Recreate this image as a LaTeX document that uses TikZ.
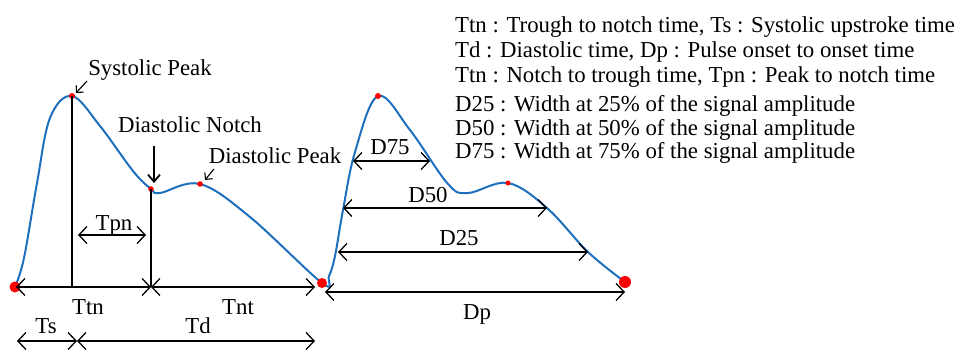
\documentclass[tikz,border=0pt]{standalone}
\usepackage{fontspec}
\setmainfont{Liberation Serif}
\usetikzlibrary{arrows.meta}
\definecolor{wave}{RGB}{30,112,190}
\begin{document}
\begin{tikzpicture}[x=1pt,y=-1pt,
  lbl/.style={font=\fontsize{22.8}{25}\selectfont, inner sep=0pt, anchor=base},
  leg/.style={font=\fontsize{22.8}{25}\selectfont, inner sep=0pt, anchor=base west},
  dim/.style={line width=1.3pt, {Straight Barb[length=8pt,width=17pt]}-{Straight Barb[length=8pt,width=17pt]}},
  pointer/.style={line width=1.1pt, -{Straight Barb[length=5pt,width=10pt]}},
  vline/.style={line width=1.2pt},
  wavec/.style={wave, line width=2pt},
  dot/.style={fill=red}]
\useasboundingbox (0,0) rectangle (965,350);

% waveform
\draw[wavec] plot[smooth, tension=0.6] coordinates {
 (15,287) (24,258) (37,183) (50,118) (72,96)
 (100,126) (133,171) (151,189) (160,193) (200,184)
 (250,217) (322,283)
 (329,276) (335,256) (343,210) (355,152) (378,96)
 (410,130) (448,184) (468,193) (508,183)
 (547,208) (588,252) (625,282)};

% key points
\coordinate (t1) at (15,287);
\coordinate (sp) at (72,96);
\coordinate (dn) at (151,189);
\coordinate (dpk) at (200,184);
\coordinate (t2) at (322,283);
\coordinate (sp2) at (378,96);
\coordinate (dpk2) at (508,183);
\coordinate (t3) at (625,282);

\fill[dot] (t1) circle (5.5pt);
\fill[dot] (sp) circle (3pt);
\fill[dot] (dn) circle (2.8pt);
\fill[dot] (dpk) circle (2.8pt);
\fill[dot] (t2) circle (5pt);
\fill[dot] (sp2) circle (3pt);
\fill[dot] (dpk2) circle (2.5pt);
\fill[dot] (t3) circle (6pt);

% base coordinates
\coordinate (b0) at (16,287);
\coordinate (b1) at (72,287);
\coordinate (b2) at (151,287);
\coordinate (b3) at (315,287);
\coordinate (c0) at (17,341);
\coordinate (c1) at (77,341);
\coordinate (c2) at (315,341);
\coordinate (p0) at (78,235);
\coordinate (p1) at (146,235);

\draw[vline] (sp) -- (b1);
\draw[vline] (dn) -- (b2);

\draw[dim] (b0) -- (b2);
\draw[dim] (b2) -- (b3);
\draw[dim] (c0) -- (c1);
\draw[dim] (c1) -- (c2);
\draw[dim] (p0) -- (p1);

\node[lbl] (ttn) at (88,314) {Ttn};
\node[lbl] (tnt) at (238,314) {Tnt};
\node[lbl] (ts) at (46,333) {Ts};
\node[lbl] (td) at (198,333) {Td};
\node[lbl] (tpn) at (114,230) {Tpn};

% second pulse dims
\coordinate (d75a) at (353,161);
\coordinate (d75b) at (430,161);
\coordinate (d50a) at (343,208);
\coordinate (d50b) at (547,208);
\coordinate (d25a) at (338,252);
\coordinate (d25b) at (588,252);
\coordinate (dpa) at (325,292);
\coordinate (dpb) at (625,292);
\draw[dim] (d75a) -- (d75b);
\draw[dim] (d50a) -- (d50b);
\draw[dim] (d25a) -- (d25b);
\draw[dim] (dpa) -- (dpb);
\node[lbl] (l75) at (390,154) {D75};
\node[lbl] (l50) at (428,202) {D50};
\node[lbl] (l25) at (459,245) {D25};
\node[lbl] (ldp) at (477,319) {Dp};

% annotations
\node[lbl] (spl) at (150,76) {Systolic Peak};
\node[lbl] (dnl) at (190,132) {Diastolic Notch};
\node[lbl] (dpl) at (275,163) {Diastolic Peak};
\coordinate (spa) at (87,81);
\coordinate (spb) at (76,93);
\draw[pointer] (spa) -- (spb);
\coordinate (dna) at (154,146);
\coordinate (dnb) at (154,183);
\draw[line width=1.8pt, -{Straight Barb[length=7pt,width=12pt]}] (dna) -- (dnb);
\coordinate (dpa1) at (214,169);
\coordinate (dpb1) at (205,180);
\draw[pointer] (dpa1) -- (dpb1);

% legend
\node[leg] (g1) at (455,33) {Ttn : Trough to notch time, Ts : Systolic upstroke time};
\node[leg] (g2) at (455,58) {Td : Diastolic time, Dp : Pulse onset to onset time};
\node[leg] (g3) at (455,83) {Ttn : Notch to trough time, Tpn : Peak to notch time};
\node[leg] (g4) at (455,111) {D25 : Width at 25\% of the signal amplitude};
\node[leg] (g5) at (455,135) {D50 : Width at 50\% of the signal amplitude};
\node[leg] (g6) at (455,158) {D75 : Width at 75\% of the signal amplitude};
\end{tikzpicture}
\end{document}
